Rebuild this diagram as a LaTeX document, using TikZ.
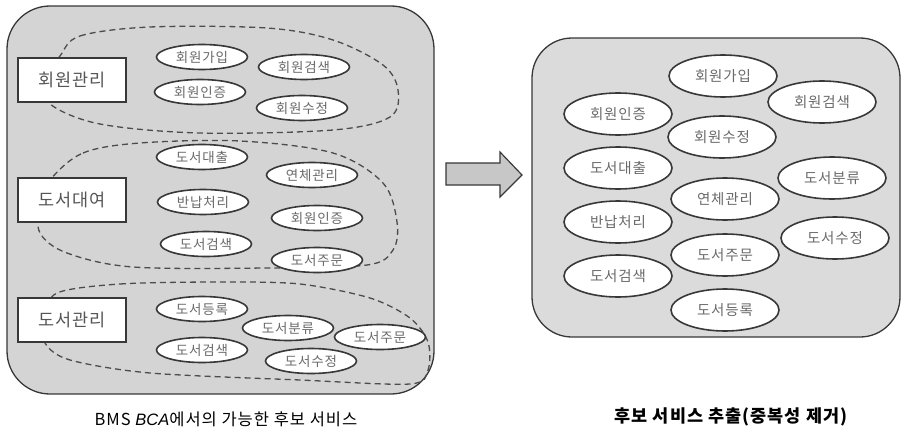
\documentclass[tikz,border=0pt]{standalone}
\usepackage{fontspec}
\setmainfont{Noto Sans CJK KR}[LetterSpace=6]
\newfontfamily\latin{Liberation Sans}
\usetikzlibrary{shapes.geometric}
\definecolor{boxfill}{gray}{0.83}
\definecolor{boxfillr}{gray}{0.86}
\definecolor{arrfill}{gray}{0.78}
\definecolor{ink}{gray}{0.22}
\tikzset{
  x=1pt, y=-1pt,
  outer/.style={draw=ink, line width=1.3pt, fill=boxfill},
  loop/.style={draw=ink!90, line width=1.3pt, dash pattern=on 6pt off 4pt},
  labelbox/.style={draw=ink, line width=1.4pt, fill=white, minimum width=108, minimum height=44, inner sep=0pt, font=\fontsize{17.5}{20}\selectfont, text=ink!85},
  svcL/.style={ellipse, draw=ink, line width=1.6pt, fill=white, minimum width=91, minimum height=25, inner sep=0pt, font=\fontsize{13.5}{15}\selectfont, text=ink!75},
  svcR/.style={ellipse, draw=ink, line width=1.6pt, fill=white, minimum width=108, minimum height=42, inner sep=0pt, font=\fontsize{14.5}{16}\selectfont, text=ink!75},
  caption/.style={font=\fontsize{16.5}{18}\selectfont, text=black}
}
\begin{document}
\begin{tikzpicture}
\useasboundingbox (0,0) rectangle (902,428);
% outer boxes
\draw[outer, rounded corners=43pt] (7,6) rectangle (434,394);
\draw[outer, fill=boxfillr, rounded corners=40pt] (532,38) rectangle (900,337);
% dashed groups
\draw[loop] plot[smooth cycle, tension=0.55] coordinates {(60,56) (80,36) (150,27) (267,28) (333,40) (383,65) (398,90) (390,117) (333,130) (200,133) (100,124) (50,104) (45,80)};
\draw[loop] plot[smooth cycle, tension=0.55] coordinates {(50,180) (83,153) (140,143) (240,141) (333,153) (383,183) (397,222) (393,250) (367,265) (267,268) (133,267) (67,253) (40,233) (40,205)};
\draw[loop] plot[smooth cycle, tension=0.5] coordinates {(57,293) (120,284) (220,282) (300,284) (370,298) (410,318) (428,342) (428,370) (410,384) (300,380) (150,373) (70,360) (45,343) (45,318)};
% group labels
\node[labelbox] (g1) at (72,80) {회원관리};
\node[labelbox] (g2) at (72,200) {도서대여};
\node[labelbox] (g3) at (72,320) {도서관리};
% left services
\node[svcL] (a1) at (202,57) {회원가입};
\node[svcL] (a2) at (304,67) {회원검색};
\node[svcL] (a3) at (200,92) {회원인증};
\node[svcL] (a4) at (302,108) {회원수정};
\node[svcL] (b1) at (202,157) {도서대출};
\node[svcL] (b2) at (312,175) {연체관리};
\node[svcL] (b3) at (203,202) {반납처리};
\node[svcL] (b4) at (317,218) {회원인증};
\node[svcL] (b5) at (206,244) {도서검색};
\node[svcL] (b6) at (317,260) {도서주문};
\node[svcL] (c1) at (202,309) {도서등록};
\node[svcL] (c2) at (288,328) {도서분류};
\node[svcL] (c3) at (380,337) {도서주문};
\node[svcL] (c4) at (202,350) {도서검색};
\node[svcL] (c5) at (311,361) {도서수정};
% arrow
\draw[draw=ink, line width=1.2pt, fill=arrfill, line join=miter] (446,163) -- (500,163) -- (500,152) -- (522,175) -- (500,197) -- (500,185) -- (446,185) -- cycle;
% right services
\node[svcR] (r1) at (723,76) {회원가입};
\node[svcR] (r2) at (822,102) {회원검색};
\node[svcR] (r3) at (618,114) {회원인증};
\node[svcR] (r4) at (722,137) {회원수정};
\node[svcR] (r5) at (618,168) {도서대출};
\node[svcR] (r6) at (832,178) {도서분류};
\node[svcR] (r7) at (725,199) {연체관리};
\node[svcR] (r8) at (618,222) {반납처리};
\node[svcR] (r9) at (835,238) {도서수정};
\node[svcR] (r10) at (725,255) {도서주문};
\node[svcR] (r11) at (618,276) {도서검색};
\node[svcR] (r12) at (725,310) {도서등록};
% captions
\node[caption] (cap1) at (226,419) {BMS {\latin\itshape BCA}에서의 가능한 후보 서비스};
\node[caption, font=\fontsize{17.5}{18}\selectfont\bfseries] (cap2) at (731,417) {후보 서비스 추출(중복성 제거)};
\end{tikzpicture}
\end{document}
